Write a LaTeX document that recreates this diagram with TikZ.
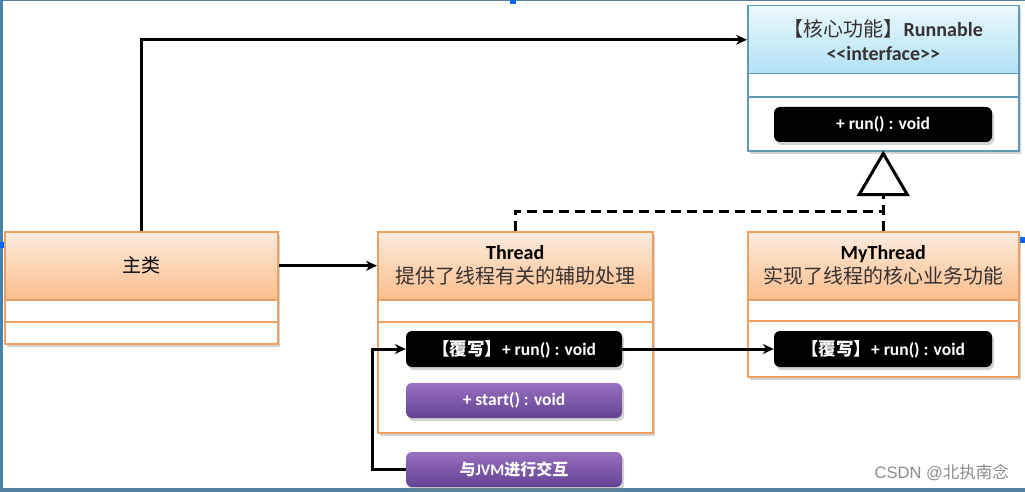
\documentclass[tikz,border=0pt]{standalone}
\usepackage{fontspec}
\setmainfont{Carlito}
\newfontfamily\cjk{Noto Sans CJK SC}
\newfontfamily\wmfont{Liberation Sans}
\usetikzlibrary{shadows,arrows.meta}
\definecolor{orbd}{RGB}{236,160,100}
\definecolor{ortop}{RGB}{253,236,222}
\definecolor{orbot}{RGB}{250,190,140}
\definecolor{blbd}{RGB}{95,155,180}
\definecolor{bltop}{RGB}{234,248,253}
\definecolor{blbot}{RGB}{178,226,245}
\definecolor{pptop}{RGB}{152,112,192}
\definecolor{ppbot}{RGB}{100,66,146}
\definecolor{hdrtxt}{RGB}{55,50,50}
\definecolor{framec}{RGB}{70,130,170}
\newcommand{\zh}[1]{{\cjk #1}}
\begin{document}
\begin{tikzpicture}[x=1pt,y=-1pt,
  shd/.style={drop shadow={shadow xshift=2pt,shadow yshift=-3pt,opacity=0.35,fill=gray}},
  classbox/.style={rectangle,draw=orbd,line width=1.5pt,fill=white,inner sep=0pt,anchor=north west,shd},
  hdr/.style={rectangle,draw=orbd,line width=1.5pt,top color=ortop,bottom color=orbot,inner sep=0pt,anchor=north west,align=center,font=\fontsize{20}{24}\selectfont,text=hdrtxt},
  sep/.style={draw=orbd,line width=1.5pt},
  btn/.style={rectangle,rounded corners=6pt,inner sep=0pt,text=white,font=\bfseries\fontsize{17.5}{20}\selectfont,shd},
  blackbtn/.style={btn,fill=black},
  purplebtn/.style={btn,top color=pptop,bottom color=ppbot},
  conn/.style={line width=3pt,-{Stealth[length=11pt,width=10pt]}},
  dashline/.style={line width=3pt,dash pattern=on 10pt off 6pt},
  tri/.style={line width=3pt,fill=white,line join=miter}
]
\useasboundingbox (0,0) rectangle (1025,492);
% frame of the screenshot
\draw[framec!70!gray,line width=1.5pt] (0,0.75) -- (1025,0.75);
\draw[framec,line width=3pt] (1.5,0) -- (1.5,492);
\draw[framec!80!gray,line width=4pt] (0,490) -- (1025,490);
\fill[blue!60!cyan] (510,0) rectangle (516,4);
\fill[blue!60!cyan] (1020,237) rectangle (1025,243);
\fill[blue!60!cyan] (0,242) rectangle (4,248);

% Runnable
\node[classbox,draw=blbd,minimum width=271pt,minimum height=145pt] (rbox) at (747,5) {};
\node[hdr,draw=blbd,top color=bltop,bottom color=blbot,minimum width=271pt,minimum height=68pt] (rhdr) at (747,5)
  {\zh{【核心功能】}\textbf{Runnable}\\\textbf{<\kern0pt<interface>\kern0pt>}};
\draw[sep,draw=blbd] (747,97) -- (1018,97);
\node[blackbtn,minimum width=218pt,minimum height=35pt] (rrun) at (883,124.5) {+ run() : void};

% main class
\node[classbox,minimum width=273pt,minimum height=112pt] (mbox) at (4,231) {};
\node[hdr,minimum width=273pt,minimum height=68pt,text=black,font=\cjk\fontsize{19}{23}\selectfont] (main) at (4,231) {主类};
\draw[sep] (4,322) -- (277,322);

% Thread
\node[classbox,minimum width=275pt,minimum height=201pt] (tbox) at (377,231) {};
\node[hdr,minimum width=275pt,minimum height=68pt] (thr) at (377,231)
  {\textbf{\color{black}Thread}\\\zh{提供了线程有关的辅助处理}};
\draw[sep] (377,322) -- (652,322);
\node[blackbtn,minimum width=216pt,minimum height=36pt] (trun) at (514,349) {\zh{\bfseries 【覆写】}+ run() : void};
\node[purplebtn,minimum width=216pt,minimum height=35pt] (tstart) at (514,400.5) {+ start() : void};
\node[purplebtn,minimum width=216pt,minimum height=35pt,font=\bfseries\fontsize{16}{19}\selectfont] (jvm) at (514,469.5) {\zh{\bfseries 与}JVM\zh{\bfseries 进行交互}};

% MyThread
\node[classbox,minimum width=271pt,minimum height=145pt] (mybox) at (747,231) {};
\node[hdr,minimum width=271pt,minimum height=68pt] (my) at (747,231)
  {\textbf{\color{black}MyThread}\\\zh{实现了线程的核心业务功能}};
\draw[sep] (747,321) -- (1018,321);
\node[blackbtn,minimum width=218pt,minimum height=36pt] (mrun) at (883,349) {\zh{\bfseries 【覆写】}+ run() : void};

% connectors
\draw[conn] (main.north) -- (main.north |- rhdr.west) -- (rhdr.west);
\draw[conn] (main.east) -- (thr.west);
\draw[conn] (jvm.west) -- ++(-33,0) |- (trun.west);
\draw[conn] (trun.east) -- (mrun.west);
\coordinate (tribase) at ([yshift=-43pt]rbox.south);
\draw[dashline] (thr.north) -- ++(0,-20) -| (tribase);
\draw[dashline] (my.north) -- ++(0,-20);
\draw[tri] ([yshift=-2pt]rbox.south) -- ([xshift=-24pt]tribase) -- ([xshift=24pt]tribase) -- cycle;

% watermark
\node[anchor=east,text=black!45,font=\wmfont\fontsize{16.5}{18}\selectfont,inner sep=0pt] (wm) at (1009,473) {CSDN @\zh{北执南念}};
\end{tikzpicture}
\end{document}
